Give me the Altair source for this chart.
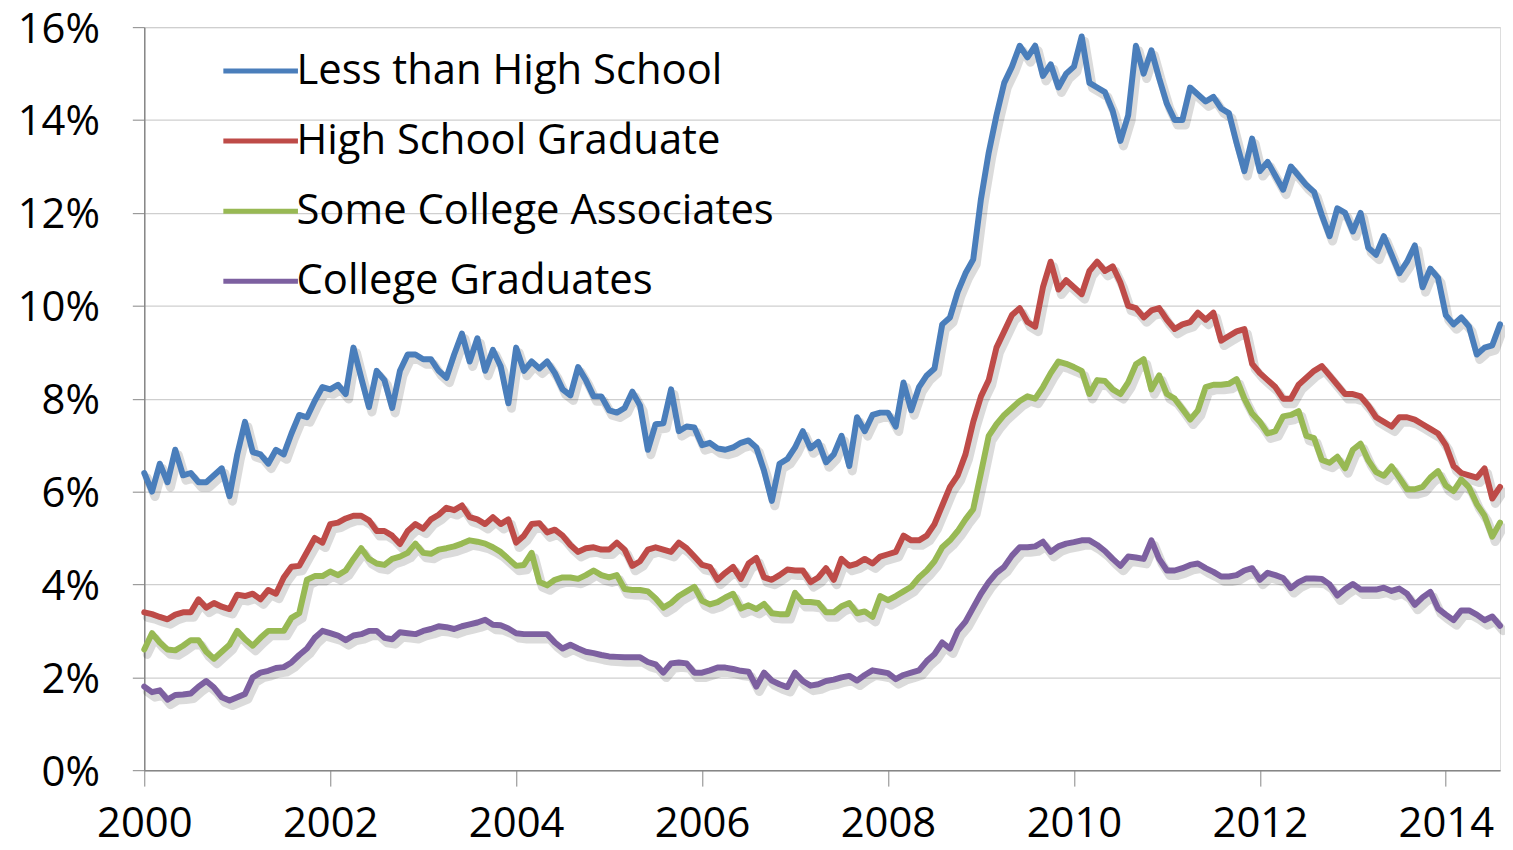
import altair as alt
import pandas as pd

series_names = ["Less than High School", "High School Graduate",
                "Some College Associates", "College Graduates"]
series_colors = ["#4A7EBB", "#BE4B48", "#98B954", "#7D60A0"]
year_ticks = [2000, 2002, 2004, 2006, 2008, 2010, 2012, 2014]
pct_ticks = [0, 2, 4, 6, 8, 10, 12, 14, 16]

# monthly, Jan 2000 .. Aug 2014 (percent)
less_hs = [
    6.4, 6.0, 6.6, 6.2, 6.9, 6.35, 6.4, 6.2, 6.2, 6.35,
    6.5, 5.9, 6.8, 7.5, 6.85, 6.8, 6.6, 6.9, 6.8, 7.25,
    7.65, 7.6, 7.95, 8.25, 8.2, 8.3, 8.1, 9.1, 8.45, 7.82,
    8.6, 8.4, 7.8, 8.6, 8.95, 8.95, 8.85, 8.85, 8.6, 8.45,
    8.95, 9.4, 8.8, 9.3, 8.6, 9.05, 8.7, 7.9, 9.1, 8.6,
    8.8, 8.65, 8.8, 8.55, 8.2, 8.07, 8.68, 8.4, 8.05, 8.05,
    7.75, 7.7, 7.8, 8.15, 7.85, 6.9, 7.45, 7.47, 8.2, 7.3,
    7.4, 7.38, 7.0, 7.05, 6.93, 6.9, 6.95, 7.05, 7.1, 6.95,
    6.45, 5.8, 6.6, 6.7, 6.95, 7.3, 6.93, 7.07, 6.63, 6.8,
    7.2, 6.55, 7.6, 7.3, 7.65, 7.7, 7.7, 7.4, 8.35, 7.75,
    8.25, 8.5, 8.65, 9.6, 9.75, 10.3, 10.7, 11.0, 12.3, 13.3,
    14.1, 14.8, 15.15, 15.6, 15.35, 15.6, 14.95, 15.2, 14.7, 15.0,
    15.15, 15.8, 14.8, 14.7, 14.6, 14.2, 13.55, 14.1, 15.6, 15.0,
    15.5, 14.9, 14.35, 14.0, 14.0, 14.7, 14.55, 14.4, 14.5, 14.25,
    14.15, 13.5, 12.9, 13.6, 12.9, 13.1, 12.8, 12.5, 13.0, 12.8,
    12.6, 12.45, 11.95, 11.5, 12.1, 12.0, 11.6, 12.0, 11.25, 11.1,
    11.5, 11.1, 10.7, 10.95, 11.3, 10.4, 10.8, 10.6, 9.8, 9.6,
    9.75, 9.55, 8.95, 9.1, 9.15, 9.6,
]
hs_grad = [
    3.4, 3.36, 3.3, 3.25, 3.35, 3.4, 3.4, 3.68, 3.5, 3.6,
    3.52, 3.47, 3.78, 3.75, 3.8, 3.68, 3.88, 3.8, 4.15, 4.38,
    4.4, 4.7, 5.0, 4.9, 5.3, 5.33, 5.42, 5.48, 5.48, 5.38,
    5.15, 5.15, 5.05, 4.87, 5.15, 5.3, 5.2, 5.4, 5.5, 5.65,
    5.6, 5.7, 5.45, 5.4, 5.3, 5.45, 5.3, 5.4, 4.9, 5.05,
    5.3, 5.32, 5.12, 5.18, 5.05, 4.85, 4.7, 4.78, 4.8, 4.75,
    4.75, 4.9, 4.75, 4.4, 4.5, 4.75, 4.8, 4.75, 4.7, 4.9,
    4.78, 4.6, 4.42, 4.38, 4.1, 4.25, 4.38, 4.12, 4.45, 4.57,
    4.15, 4.1, 4.2, 4.32, 4.3, 4.3, 4.05, 4.15, 4.35, 4.1,
    4.55, 4.4, 4.45, 4.55, 4.45, 4.6, 4.65, 4.7, 5.05, 4.95,
    4.95, 5.05, 5.3, 5.7, 6.1, 6.35, 6.8, 7.5, 8.05, 8.4,
    9.1, 9.45, 9.8, 9.95, 9.65, 9.55, 10.4, 10.95, 10.35, 10.55,
    10.4, 10.25, 10.75, 10.95, 10.75, 10.85, 10.5, 10.0, 9.95, 9.75,
    9.9, 9.95, 9.7, 9.5, 9.6, 9.65, 9.85, 9.7, 9.85, 9.25,
    9.35, 9.45, 9.5, 8.75, 8.55, 8.4, 8.25, 8.0, 8.0, 8.3,
    8.45, 8.6, 8.7, 8.5, 8.3, 8.1, 8.1, 8.05, 7.85, 7.6,
    7.5, 7.4, 7.6, 7.6, 7.55, 7.45, 7.35, 7.25, 7.0, 6.55,
    6.4, 6.35, 6.3, 6.5, 5.85, 6.1,
]
some_college = [
    2.6, 2.95, 2.75, 2.6, 2.58, 2.68, 2.8, 2.8, 2.55, 2.4,
    2.55, 2.7, 3.0, 2.82, 2.68, 2.85, 3.0, 3.0, 3.0, 3.28,
    3.38, 4.1, 4.18, 4.18, 4.28, 4.2, 4.3, 4.55, 4.78, 4.55,
    4.45, 4.42, 4.55, 4.6, 4.68, 4.88, 4.68, 4.66, 4.75, 4.78,
    4.82, 4.88, 4.95, 4.92, 4.88, 4.8, 4.7, 4.55, 4.4, 4.42,
    4.68, 4.05, 3.98, 4.1, 4.15, 4.15, 4.12, 4.2, 4.3, 4.2,
    4.15, 4.2, 3.9, 3.88, 3.88, 3.85, 3.7, 3.5, 3.6, 3.75,
    3.85, 3.95, 3.65, 3.57, 3.62, 3.72, 3.8, 3.48, 3.55, 3.47,
    3.58, 3.38, 3.36, 3.36, 3.82, 3.62, 3.62, 3.6, 3.4, 3.4,
    3.53, 3.6, 3.38, 3.42, 3.3, 3.75, 3.66, 3.75, 3.85, 3.95,
    4.15, 4.3, 4.5, 4.8, 4.95, 5.15, 5.4, 5.62, 6.4, 7.2,
    7.45, 7.65, 7.8, 7.95, 8.05, 8.0, 8.25, 8.55, 8.8, 8.75,
    8.68, 8.6, 8.1, 8.4, 8.38, 8.2, 8.1, 8.35, 8.74, 8.85,
    8.2, 8.5, 8.1, 8.0, 7.78, 7.55, 7.75, 8.25, 8.3, 8.3,
    8.32, 8.42, 8.0, 7.68, 7.5, 7.25, 7.3, 7.62, 7.65, 7.73,
    7.2, 7.15, 6.68, 6.62, 6.75, 6.5, 6.9, 7.03, 6.67, 6.42,
    6.34, 6.54, 6.3, 6.05, 6.05, 6.1, 6.3, 6.44, 6.13, 6.01,
    6.26, 6.09, 5.73, 5.48, 5.03, 5.33,
]
college = [
    1.8, 1.68, 1.72, 1.52, 1.62, 1.63, 1.65, 1.8, 1.92, 1.78,
    1.57, 1.5, 1.57, 1.64, 2.0, 2.1, 2.14, 2.2, 2.22, 2.32,
    2.48, 2.62, 2.85, 3.0, 2.95, 2.9, 2.8, 2.9, 2.93, 3.0,
    3.0, 2.85, 2.82, 2.97, 2.95, 2.93, 3.0, 3.04, 3.1, 3.08,
    3.04, 3.1, 3.14, 3.18, 3.24, 3.13, 3.12, 3.05, 2.95, 2.93,
    2.93, 2.93, 2.93, 2.75, 2.62, 2.7, 2.62, 2.55, 2.52, 2.48,
    2.45, 2.44, 2.43, 2.43, 2.43, 2.33, 2.28, 2.1, 2.3, 2.32,
    2.3, 2.1, 2.1, 2.15, 2.21, 2.21, 2.18, 2.14, 2.12, 1.8,
    2.1, 1.93, 1.85, 1.79, 2.1, 1.92, 1.82, 1.85, 1.92, 1.95,
    2.0, 2.03, 1.93, 2.05, 2.15, 2.12, 2.09, 1.96, 2.05, 2.1,
    2.15, 2.35, 2.5, 2.75, 2.62, 3.0, 3.2, 3.5, 3.8, 4.05,
    4.25, 4.38, 4.62, 4.8, 4.8, 4.82, 4.92, 4.7, 4.82, 4.88,
    4.91, 4.95, 4.95, 4.85, 4.72, 4.55, 4.4, 4.6, 4.58, 4.55,
    4.95, 4.55, 4.3, 4.3, 4.35, 4.42, 4.45, 4.35, 4.27, 4.17,
    4.17, 4.2, 4.3, 4.35, 4.1, 4.25, 4.2, 4.14, 3.92, 4.05,
    4.13, 4.13, 4.12, 4.0, 3.76, 3.9, 4.01, 3.89, 3.89, 3.89,
    3.93, 3.86, 3.91, 3.8, 3.56, 3.72, 3.84, 3.48, 3.35, 3.23,
    3.44, 3.44, 3.35, 3.23, 3.31, 3.11,
]

months = pd.date_range("2000-01-01", periods=len(less_hs), freq="MS")
rows = []
for name, vals in zip(series_names, [less_hs, hs_grad, some_college, college]):
    for d, v in zip(months, vals):
        rows.append({"t": d.year + (d.month - 1) / 12.0, "series": name, "value": v})
df = pd.DataFrame(rows)
t_max = float(df["t"].max())

FONT = "Open Sans"

x_enc = alt.X("t:Q",
              scale=alt.Scale(domain=[2000, t_max], nice=False, zero=False),
              axis=alt.Axis(values=year_ticks, format="d", title=None, grid=False,
                            tickSize=16, tickColor="#868686", domainColor="#868686",
                            domainWidth=1.5, tickWidth=1,
                            labelFontSize=42, labelFont=FONT, labelColor="#000000",
                            labelBaseline="alphabetic", labelPadding=51,
                            labelFlush=False, labelOverlap=False, labelBound=False))
y_enc = alt.Y("value:Q",
              scale=alt.Scale(domain=[0, 16], nice=False, zero=True),
              axis=alt.Axis(values=pct_ticks, labelExpr="datum.value + '%'", title=None,
                            grid=True, gridColor="#cfcfcf", gridWidth=1.2,
                            tickSize=12, tickColor="#868686", domainColor="#868686",
                            domainWidth=1.5,
                            labelFontSize=42, labelFont=FONT, labelColor="#000000",
                            labelBaseline="alphabetic", labelOffset=15, labelPadding=33,
                            labelFlush=False, labelOverlap=False, labelBound=False))

shadow = alt.Chart(df).mark_line(
    color="#000000", opacity=0.14, strokeWidth=9, xOffset=3, yOffset=5,
    strokeJoin="round", strokeCap="round"
).encode(x=x_enc, y=y_enc, detail="series:N")

lines = alt.Chart(df).mark_line(
    strokeWidth=6, strokeJoin="round", strokeCap="round"
).encode(
    x=x_enc, y=y_enc,
    color=alt.Color("series:N",
                    scale=alt.Scale(domain=series_names, range=series_colors),
                    sort=series_names,
                    legend=alt.Legend(orient="none", legendX=77, legendY=4, title=None,
                                      symbolType="stroke", symbolSize=5625,
                                      symbolStrokeWidth=5, labelFontSize=42,
                                      labelFont=FONT, labelColor="#000000",
                                      labelOffset={"expr": "-4"}, rowPadding=9.5,
                                      padding=0, labelLimit=0)),
    order=alt.Order("t:Q"),
)

chart = alt.layer(shadow, lines).properties(
    width=1363, height=747,
    autosize=alt.AutoSizeParams(type="none"),
    padding={"left": 137, "top": 17, "right": 5, "bottom": 85},
    background="white",
).configure_view(stroke=None).configure(font=FONT)

chart.save("out.html", embed_options={"renderer": "svg", "actions": False})
